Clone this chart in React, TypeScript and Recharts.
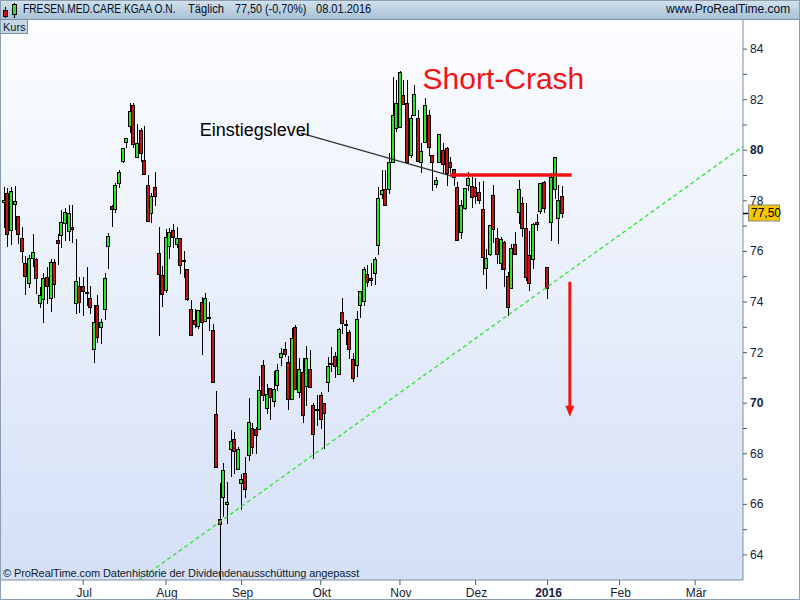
import { Bar, ComposedChart, ReferenceDot, ReferenceLine, XAxis, YAxis } from 'recharts'

// daily candles, 01.06.2015 - 08.01.2016 (one entry per trading day)
const opens = [
  77.94, 78.3, 76.86, 77.86, 77.39, 76.52, 75.53, 74.74, 75.73, 75.69, 73.95, 74.11, 74.98, 74.17, 75.57, 76.45,
  76.64, 77.14, 76.8, 76.97, 73.95, 74.62, 74.62, 74.38, 74.16, 72.13, 73.87, 73.03, 73.71, 76.23, 77.78, 77.69,
  78.69, 79.59, 80.31, 80.95, 81.79, 79.75, 80.8, 79.61, 78.63, 77.53, 78.55, 75.94, 75.06, 74.46, 76.2, 76.84,
  76.28, 76.52, 75.68, 75.29, 73.73, 73.28, 73.04, 73.99, 73.26, 73.4, 72.89, 69.57, 65.41, 66.28, 66.0, 68.2,
  68.57, 67.39, 66.83, 67.23, 67.94, 69.01, 68.97, 68.97, 71.5, 69.81, 70.59, 70.08, 70.71, 71.82, 72.13, 71.62,
  70.16, 73.0, 70.43, 71.22, 70.67, 71.34, 69.92, 69.76, 70.31, 69.99, 70.83, 71.58, 71.85, 71.14, 73.59, 73.14,
  72.8, 71.74, 71.5, 73.87, 74.03, 75.1, 74.94, 75.14, 76.24, 78.26, 78.46, 78.46, 79.52, 80.87, 80.93, 82.18,
  81.86, 79.81, 81.39, 81.26, 79.55, 80.34, 81.39, 79.81, 78.66, 79.52, 80.01, 80.08, 79.52, 79.25, 78.56, 76.77,
  77.71, 78.63, 78.59, 78.55, 78.35, 77.68, 75.36, 75.89, 78.23, 76.52, 75.53, 76.36, 75.03, 74.54, 76.28, 77.55,
  77.93, 76.91, 75.86, 75.69, 77.15, 77.6, 78.76, 75.4, 77.15, 78.46, 77.31, 78.19,
]
const highs = [
  78.56, 78.5, 78.54, 78.59, 77.4, 76.98, 75.82, 75.86, 76.68, 75.74, 74.61, 75.14, 75.4, 75.69, 75.69, 76.7,
  77.64, 77.72, 77.85, 77.84, 76.49, 74.98, 74.98, 75.39, 74.62, 73.88, 74.28, 73.34, 75.14, 76.74, 77.82, 78.69,
  79.22, 80.09, 80.47, 81.86, 81.86, 81.03, 80.87, 80.96, 79.02, 78.3, 79.15, 76.97, 75.41, 76.9, 76.91, 77.07,
  76.95, 76.52, 76.02, 75.29, 74.08, 73.73, 73.69, 74.21, 74.35, 73.99, 73.13, 70.48, 66.86, 67.62, 66.88, 68.94,
  68.85, 68.28, 67.2, 67.86, 70.19, 69.21, 69.05, 71.08, 71.7, 70.75, 70.59, 71.27, 71.54, 72.17, 72.41, 71.87,
  72.97, 73.08, 71.78, 71.78, 72.25, 72.1, 70.0, 70.31, 70.43, 69.99, 71.84, 72.21, 72.01, 72.96, 74.17, 73.28,
  72.88, 71.97, 73.63, 74.42, 75.37, 75.45, 75.53, 75.77, 78.56, 79.22, 79.22, 79.88, 82.91, 82.78, 83.13, 82.78,
  82.78, 81.39, 82.58, 81.59, 80.27, 82.05, 81.59, 79.81, 78.96, 80.64, 80.27, 80.14, 79.75, 79.25, 78.76, 78.03,
  78.51, 79.15, 78.96, 78.9, 78.76, 78.79, 76.1, 77.05, 78.63, 76.94, 76.58, 76.41, 75.2, 76.28, 76.78, 78.82,
  78.17, 77.93, 76.81, 77.11, 77.48, 78.72, 78.78, 75.4, 79.09, 79.75, 78.63, 78.6,
]
const lows = [
  76.98, 76.22, 76.28, 76.9, 76.33, 75.6, 74.31, 74.58, 75.41, 74.35, 73.79, 73.2, 73.95, 73.63, 74.21, 75.52,
  76.16, 76.45, 76.45, 76.36, 73.58, 73.62, 73.5, 73.88, 73.58, 71.62, 72.43, 72.39, 73.34, 75.36, 76.99, 77.57,
  78.56, 79.55, 80.14, 80.73, 80.14, 79.72, 79.59, 79.05, 77.22, 77.18, 77.84, 72.71, 73.86, 74.41, 75.75, 76.16,
  76.16, 75.14, 74.98, 74.08, 72.69, 73.03, 72.96, 71.93, 73.26, 72.9, 70.85, 67.49, 63.05, 65.55, 65.25, 67.14,
  67.24, 67.39, 65.81, 66.28, 67.76, 68.02, 68.02, 68.97, 70.13, 69.6, 69.36, 69.89, 70.52, 71.51, 71.87, 69.76,
  70.16, 70.55, 70.26, 69.26, 69.92, 70.63, 67.82, 69.13, 69.01, 68.22, 70.47, 71.26, 71.03, 71.14, 72.76, 72.33,
  71.77, 70.89, 71.06, 73.4, 73.89, 74.62, 74.66, 74.7, 75.89, 78.1, 77.82, 78.3, 79.52, 80.76, 80.91, 81.82,
  79.48, 79.75, 81.39, 79.58, 79.15, 80.34, 79.81, 78.43, 78.56, 79.52, 79.09, 78.63, 79.15, 78.63, 76.45, 76.53,
  77.68, 78.43, 77.77, 77.9, 77.9, 75.1, 74.54, 75.86, 76.39, 75.53, 75.29, 74.65, 73.49, 74.54, 75.9, 77.11,
  76.61, 74.87, 74.48, 75.36, 76.85, 77.53, 77.57, 74.17, 76.45, 78.1, 76.32, 77.35,
]
const closes = [
  78.03, 76.68, 78.38, 77.98, 76.7, 76.01, 75.02, 75.73, 75.97, 74.94, 74.27, 74.94, 74.62, 75.57, 74.7, 76.32,
  77.18, 77.55, 77.51, 76.88, 74.82, 73.99, 74.45, 74.35, 73.79, 73.2, 72.6, 73.2, 74.94, 76.6, 77.67, 78.62,
  79.13, 80.09, 80.47, 81.54, 80.24, 80.28, 79.88, 79.05, 77.22, 78.19, 78.2, 75.1, 74.31, 76.56, 76.76, 76.56,
  76.52, 75.47, 75.66, 74.11, 72.69, 73.12, 73.67, 73.2, 74.15, 73.38, 70.85, 67.49, 65.21, 67.36, 66.08, 68.49,
  68.1, 68.18, 66.99, 66.6, 69.25, 68.28, 68.73, 70.51, 70.31, 70.35, 70.23, 70.55, 71.3, 71.98, 71.95, 70.18,
  72.57, 70.55, 71.34, 69.53, 71.78, 70.63, 68.77, 69.76, 69.37, 69.6, 71.46, 71.58, 71.46, 72.92, 73.16, 73.14,
  72.13, 70.98, 73.32, 74.42, 75.29, 74.78, 74.86, 75.69, 78.1, 78.43, 77.82, 79.52, 81.39, 81.87, 83.08, 81.82,
  79.55, 81.26, 82.21, 79.58, 79.97, 81.79, 80.14, 79.52, 78.82, 80.64, 79.46, 79.09, 79.35, 78.96, 76.45, 77.84,
  78.5, 78.89, 78.17, 78.2, 78.03, 75.79, 75.73, 77.03, 76.89, 75.9, 76.49, 75.29, 73.82, 76.12, 75.9, 78.46,
  76.91, 74.97, 74.75, 77.07, 77.07, 78.69, 77.71, 74.54, 78.93, 79.72, 78.03, 77.5,
]

// first trading day of each month (index into the candles)
const monthTickIdx = [22, 45, 66, 88, 110, 131, 151, 171, 192]
const monthTickLabels = ['Jul', 'Aug', 'Sep', 'Okt', 'Nov', 'Dez', '2016', 'Feb', 'Mär']
const priceTicks = [64, 65, 66, 67, 68, 69, 70, 71, 72, 73, 74, 75, 76, 77, 77.5, 78, 79, 80, 81, 82, 83, 84]
const lastPrice = 77.5

// drawn annotations, in (trading day, price)
const trendStart = [37.5, 63.01]
const trendEnd = [205.3, 80.15]
const entryLevel = { from: 123.9, to: 157.7, price: 79.02 }
const entryPointer = { fromX: 82.5, fromY: 80.68, toX: 124.4, toY: 78.98 }
const crashArrow = { x: 157.2, top: 74.8, tip: 69.46 }

const X_DOMAIN = [-0.83, 205.3]
const Y_DOMAIN = [63.01, 85.15]

function Candle(props: any) {
  const { x, y, width, height, payload } = props
  if (x == null || y == null || !payload) return null
  const { open, close, high, low } = payload
  const top = Math.min(y, y + height)
  const h = Math.abs(height)
  const cx = Math.round(x + width / 2) + 0.5
  const span = high - low || 1
  const toY = (v: number) => top + ((high - v) / span) * h
  const bodyTop = Math.round(toY(Math.max(open, close))) + 0.5
  const bodyBottom = Math.round(toY(Math.min(open, close))) + 0.5
  const up = close >= open

  return (
    <g>
      <line x1={cx} x2={cx} y1={Math.round(top)} y2={Math.round(top + h) + 1} stroke="#000" strokeWidth={1} />
      <rect
        x={cx - 2}
        y={bodyTop}
        width={3}
        height={Math.max(1, bodyBottom - bodyTop)}
        fill={up ? '#2ee32e' : '#c01515'}
        stroke="#000"
        strokeWidth={1}
      />
    </g>
  )
}

function MonthTick({ x, y, payload }: any) {
  const label = monthTickLabels[monthTickIdx.indexOf(payload.value)]
  return (
    <g>
      <line x1={x} x2={x} y1={y} y2={y + 5} stroke="#4b5b6c" />
      <text
        x={x + 1}
        y={y + 17}
        textAnchor="middle"
        fontSize={12}
        fontWeight={label === '2016' ? 'bold' : 'normal'}
        fill="#14213d"
      >
        {label}
      </text>
    </g>
  )
}

function PriceTick({ x, y, payload }: any) {
  const v = payload.value
  if (v === lastPrice) {
    return (
      <g>
        <line x1={x} x2={x + 6} y1={y} y2={y} stroke="#000" strokeWidth={1.5} />
        <rect x={x + 5.5} y={y - 8.5} width={31} height={16} fill="#f5c600" stroke="#8c8c8c" />
        <text x={x + 8} y={y + 4} fontSize={12} fill="#000">
          77,50
        </text>
      </g>
    )
  }
  const labelled = v % 2 === 0
  return (
    <g>
      <line x1={x} x2={x + 4} y1={y} y2={y} stroke="#4b5b6c" />
      {labelled && (
        <text
          x={x + 7}
          y={y + 4}
          fontSize={12}
          fontWeight={v % 10 === 0 ? 'bold' : 'normal'}
          fill="#14213d"
        >
          {v}
        </text>
      )}
    </g>
  )
}

function headerSpan(left: number, squeeze: number) {
  return {
    position: 'absolute' as const,
    left,
    transform: `scaleX(${squeeze})`,
    transformOrigin: 'left center',
    whiteSpace: 'nowrap' as const,
  }
}

export default function App() {
  const data = opens.map((open, i) => ({
    i,
    open,
    high: highs[i],
    low: lows[i],
    close: closes[i],
  }))

  return (
    <div
      style={{
        position: 'absolute',
        left: 0,
        top: 0,
        width: 800,
        height: 600,
        background: '#fff',
        fontFamily: 'Arial, "Liberation Sans", sans-serif',
        overflow: 'hidden',
      }}
    >
      <div
        style={{
          position: 'absolute',
          left: 1,
          top: 20,
          width: 742,
          height: 560,
          background: 'linear-gradient(#fcfdff, #d4e0f7)',
        }}
      />

      <div style={{ position: 'absolute', left: 0, top: 0 }}>
        <ComposedChart width={800} height={600} data={data} margin={{ top: 20, right: 0, bottom: 0, left: 1 }}>
          <XAxis
            type="number"
            dataKey="i"
            domain={X_DOMAIN}
            allowDataOverflow
            ticks={monthTickIdx}
            interval={0}
            height={20}
            tickSize={0}
            tickMargin={0}
            tickLine={false}
            axisLine={{ stroke: '#7d8fa3' }}
            tick={(p: any) => <MonthTick {...p} />}
          />
          <YAxis
            orientation="right"
            type="number"
            domain={Y_DOMAIN}
            allowDataOverflow
            ticks={priceTicks}
            interval={0}
            width={57}
            tickSize={0}
            tickMargin={0}
            tickLine={false}
            axisLine={{ stroke: '#7d8fa3' }}
            tick={(p: any) => <PriceTick {...p} />}
          />

          <ReferenceLine
            segment={[
              { x: trendStart[0], y: trendStart[1] },
              { x: trendEnd[0], y: trendEnd[1] },
            ]}
            stroke="#3be63b"
            strokeWidth={1.4}
            strokeDasharray="4 3"
          />

          <Bar
            dataKey={(d: any) => [d.low, d.high]}
            barSize={4}
            shape={(p: any) => <Candle {...p} />}
            isAnimationActive={false}
          />

          <ReferenceLine
            segment={[
              { x: entryPointer.fromX, y: entryPointer.fromY },
              { x: entryPointer.toX, y: entryPointer.toY },
            ]}
            stroke="#333"
            strokeWidth={1.2}
          />
          <ReferenceLine
            segment={[
              { x: entryLevel.from, y: entryLevel.price },
              { x: entryLevel.to, y: entryLevel.price },
            ]}
            stroke="#f01010"
            strokeWidth={3.5}
          />
          <ReferenceLine
            segment={[
              { x: crashArrow.x, y: crashArrow.top },
              { x: crashArrow.x, y: crashArrow.tip + 0.4 },
            ]}
            stroke="#ee1515"
            strokeWidth={3}
          />
          <ReferenceDot
            x={crashArrow.x}
            y={crashArrow.tip}
            r={0}
            shape={(p: any) => (
              <polygon
                points={`${p.cx},${p.cy} ${p.cx - 4.5},${p.cy - 11} ${p.cx + 4.5},${p.cy - 11}`}
                fill="#ee1515"
              />
            )}
          />
          <ReferenceDot
            x={138.75}
            y={82.42}
            r={0}
            shape={(p: any) => (
              <text x={p.cx} y={p.cy} textAnchor="middle" fontSize={30} fill="#f01414">
                Short-Crash
              </text>
            )}
          />
          <ReferenceDot
            x={54.4}
            y={80.56}
            r={0}
            shape={(p: any) => (
              <text x={p.cx} y={p.cy} fontSize={18} fill="#000">
                Einstiegslevel
              </text>
            )}
          />
        </ComposedChart>
      </div>

      {/* header bar */}
      <div
        style={{
          position: 'absolute',
          left: 0,
          top: 0,
          width: 800,
          height: 19,
          background: 'linear-gradient(#d3e2ed, #a8c2d6)',
          borderBottom: '1px solid #7b90a4',
          fontSize: 12,
          color: '#000d26',
          lineHeight: '19px',
        }}
      >
        <svg width={18} height={19} style={{ position: 'absolute', left: 1, top: 0 }}>
          <line x1={4.5} x2={4.5} y1={7} y2={18} stroke="#000" />
          <rect x={2.5} y={10.5} width={4} height={6} fill="#d01010" stroke="#000" />
          <line x1={13.5} x2={13.5} y1={3} y2={18} stroke="#000" />
          <rect x={11.5} y={4.5} width={4} height={10} fill="#2ee32e" stroke="#000" />
        </svg>
        <span style={headerSpan(23, 0.85)}>FRESEN.MED.CARE KGAA O.N.</span>
        <span style={headerSpan(188, 0.93)}>Täglich</span>
        <span style={headerSpan(235, 0.9)}>77,50 (-0,70%)</span>
        <span style={headerSpan(316, 0.92)}>08.01.2016</span>
        <span style={headerSpan(666, 1)}>www.ProRealTime.com</span>
      </div>

      <div
        style={{
          position: 'absolute',
          left: 0,
          top: 20,
          width: 28,
          height: 14,
          background: '#c6d7e5',
          borderRight: '1px solid #7b90a4',
          borderBottom: '1px solid #7b90a4',
          fontSize: 11,
          lineHeight: '14px',
          color: '#0c1a33',
          paddingLeft: 3,
          boxSizing: 'border-box',
        }}
      >
        Kurs
      </div>

      <div
        style={{ position: 'absolute', left: 3, top: 567, fontSize: 11, letterSpacing: -0.1, color: '#111a2e' }}
      >
        © ProRealTime.com Datenhistorie der Dividendenausschüttung angepasst
      </div>

      <div
        style={{
          position: 'absolute',
          left: 0,
          top: 0,
          width: 800,
          height: 600,
          border: '1px solid #8c9fb2',
          boxSizing: 'border-box',
          pointerEvents: 'none',
        }}
      />
    </div>
  )
}
